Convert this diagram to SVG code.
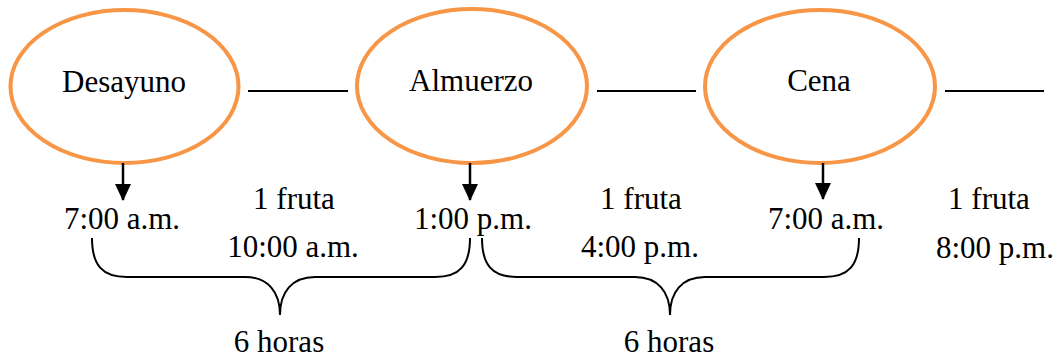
<svg xmlns="http://www.w3.org/2000/svg" width="1062" height="358" viewBox="0 0 1062 358">
<defs>
<style>
.node{fill:#fff;stroke:#F79646;stroke-width:4}
.t{font-family:"Liberation Serif","Times New Roman",serif;font-size:31px;fill:#000;text-anchor:middle}
.ln{stroke:#000;stroke-width:2;fill:none}
.ar{stroke:#000;stroke-width:2.5;fill:none}
.br{stroke:#000;stroke-width:2;fill:none}
</style>
<marker id="ah2" markerWidth="17" markerHeight="16" refX="16" refY="8" orient="auto" markerUnits="userSpaceOnUse" viewBox="0 0 17 16">
<path d="M0,0 L17,8 L0,16 z" fill="#000"/>
</marker>
</defs>
<g id="n-desayuno">
<ellipse class="node" cx="124.5" cy="86.5" rx="114" ry="76.5"/>
<text class="t" x="124" y="92">Desayuno</text>
</g>
<g id="n-almuerzo">
<ellipse class="node" cx="472" cy="86" rx="115" ry="77"/>
<text class="t" x="471" y="91">Almuerzo</text>
</g>
<g id="n-cena">
<ellipse class="node" cx="820" cy="86.5" rx="115" ry="76.5"/>
<text class="t" x="819" y="91">Cena</text>
</g>
<g id="connectors">
<line class="ln" x1="248" y1="91" x2="348" y2="91"/>
<line class="ln" x1="597" y1="91" x2="696" y2="91"/>
<line class="ln" x1="945" y1="91" x2="1044" y2="91"/>
<line class="ar" x1="123" y1="163" x2="123" y2="200" marker-end="url(#ah2)"/>
<line class="ar" x1="470" y1="163" x2="470" y2="200" marker-end="url(#ah2)"/>
<line class="ar" x1="823" y1="163" x2="823" y2="199" marker-end="url(#ah2)"/>
<path class="br" d="M92,238 C92,265 102,277 127,277 L245,277 C268,277 280,292 280,315 C280,292 292,277 315,277 L435,277 C460,277 470,265 470,238"/>
<path class="br" d="M482,238 C482,265 492,277 517,277 L635,277 C658,277 670,292 670,315 C670,292 682,277 705,277 L824,277 C849,277 859,265 859,238"/>
</g>
<g id="labels">
<text class="t" x="122" y="229">7:00 a.m.</text>
<text class="t" x="294" y="209">1 fruta</text>
<text class="t" x="293" y="257">10:00 a.m.</text>
<text class="t" x="473" y="229">1:00 p.m.</text>
<text class="t" x="641" y="209">1 fruta</text>
<text class="t" x="640" y="257">4:00 p.m.</text>
<text class="t" x="826" y="229">7:00 a.m.</text>
<text class="t" x="989" y="209">1 fruta</text>
<text class="t" x="995" y="258">8:00 p.m.</text>
<text class="t" x="279" y="352">6 horas</text>
<text class="t" x="669" y="352">6 horas</text>
</g>
</svg>
